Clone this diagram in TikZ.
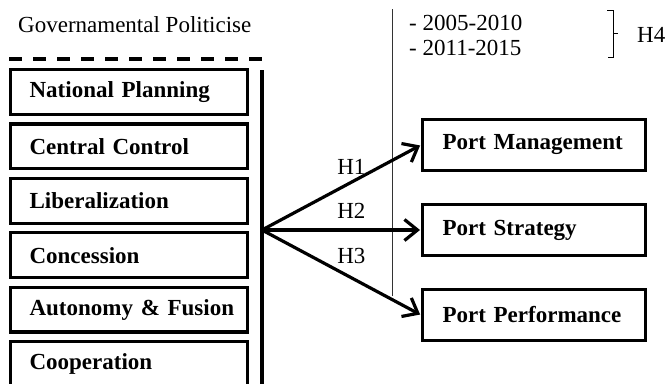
\documentclass[tikz,border=0pt]{standalone}
\usepackage{fontspec}
\setmainfont{Liberation Serif}
\usetikzlibrary{arrows.meta}

\begin{document}
\begin{tikzpicture}[
            x = 1pt, y = -1pt, % pixel grid, y pointing down
            font = \fontsize{23}{25}\selectfont,
            shorten > = 1pt, % don't touch arrow head to node
            policy/.style = {draw, line width=3.2pt, minimum height=44.8pt, text width=198.8pt,
                inner xsep=19pt, inner ysep=0pt, align=left,
                font=\fontsize{23}{25}\selectfont\bfseries, node distance=54.4pt},
            port/.style = {draw, line width=3.2pt, minimum height=50.8pt, text width=182.8pt,
                inner xsep=20pt, inner ysep=0pt, align=left,
                font=\fontsize{23}{25}\selectfont\bfseries, node distance=85pt},
            hyp/.style = {inner sep=0pt},
            link/.style = {line width=3.2pt, -{Straight Barb[length=13pt,width=21pt]}}
        ]
	\useasboundingbox (0,0) rectangle (668,383);

	% title and time periods
	\node[hyp, anchor=base west] (title) at (18,32) {Governamental Politicise};
	\node[hyp, anchor=base west] (p1) at (409,30) {- 2005-2010};
	\node[hyp, anchor=base west] (p2) at (409,55) {- 2011-2015};
	\node[hyp, anchor=base west] (h4) at (637,42) {H4};
	\draw[line width=1pt] (607,10) -- (613,10) -- (613,57) -- (607,57);
	\draw[line width=1pt] (613,33) -- (619,33);

	\draw[line width=3.2pt, dash pattern=on 13pt off 11pt] (9,59) -- (263,59);

	% policies
	\node[policy] (np) at (129,92) {National Planning};
	\node[policy, below of=np] (cc) {Central Control};
	\node[policy, below of=cc] (lib) {Liberalization};
	\node[policy, below of=lib] (con) {Concession};
	\node[policy, below of=con] (auf) {\mbox{Autonomy \& Fusion}};
	\node[policy, below of=auf] (coop) {Cooperation};

	% ports
	\node[port] (pm) at (534,145) {Port Management};
	\node[port, below of=pm] (ps) {Port Strategy};
	\node[port, below of=ps] (pp) {Port Performance};

	\coordinate (bar top) at (262,70);
	\coordinate (bar end) at (262,392);
	\coordinate (src) at (262,230);
	\coordinate (time top) at (392,9);
	\coordinate (time end) at (392,297);

	\draw[line width=3.2pt] (bar top) -- (bar end);
	\draw[line width=0.9pt, black!80] (time top) -- (time end);

	\draw[link] (src) -- (pm.west) node[hyp, pos=0.5625, above=6.5pt] (h1) {H1};
	\draw[link] (src) -- (ps.west) node[hyp, pos=0.5625, above=10pt] (h2) {H2};
	\draw[link] (src) -- (pp.west) node[hyp, pos=0.5625, above=12pt] (h3) {H3};

\end{tikzpicture}
\end{document}
